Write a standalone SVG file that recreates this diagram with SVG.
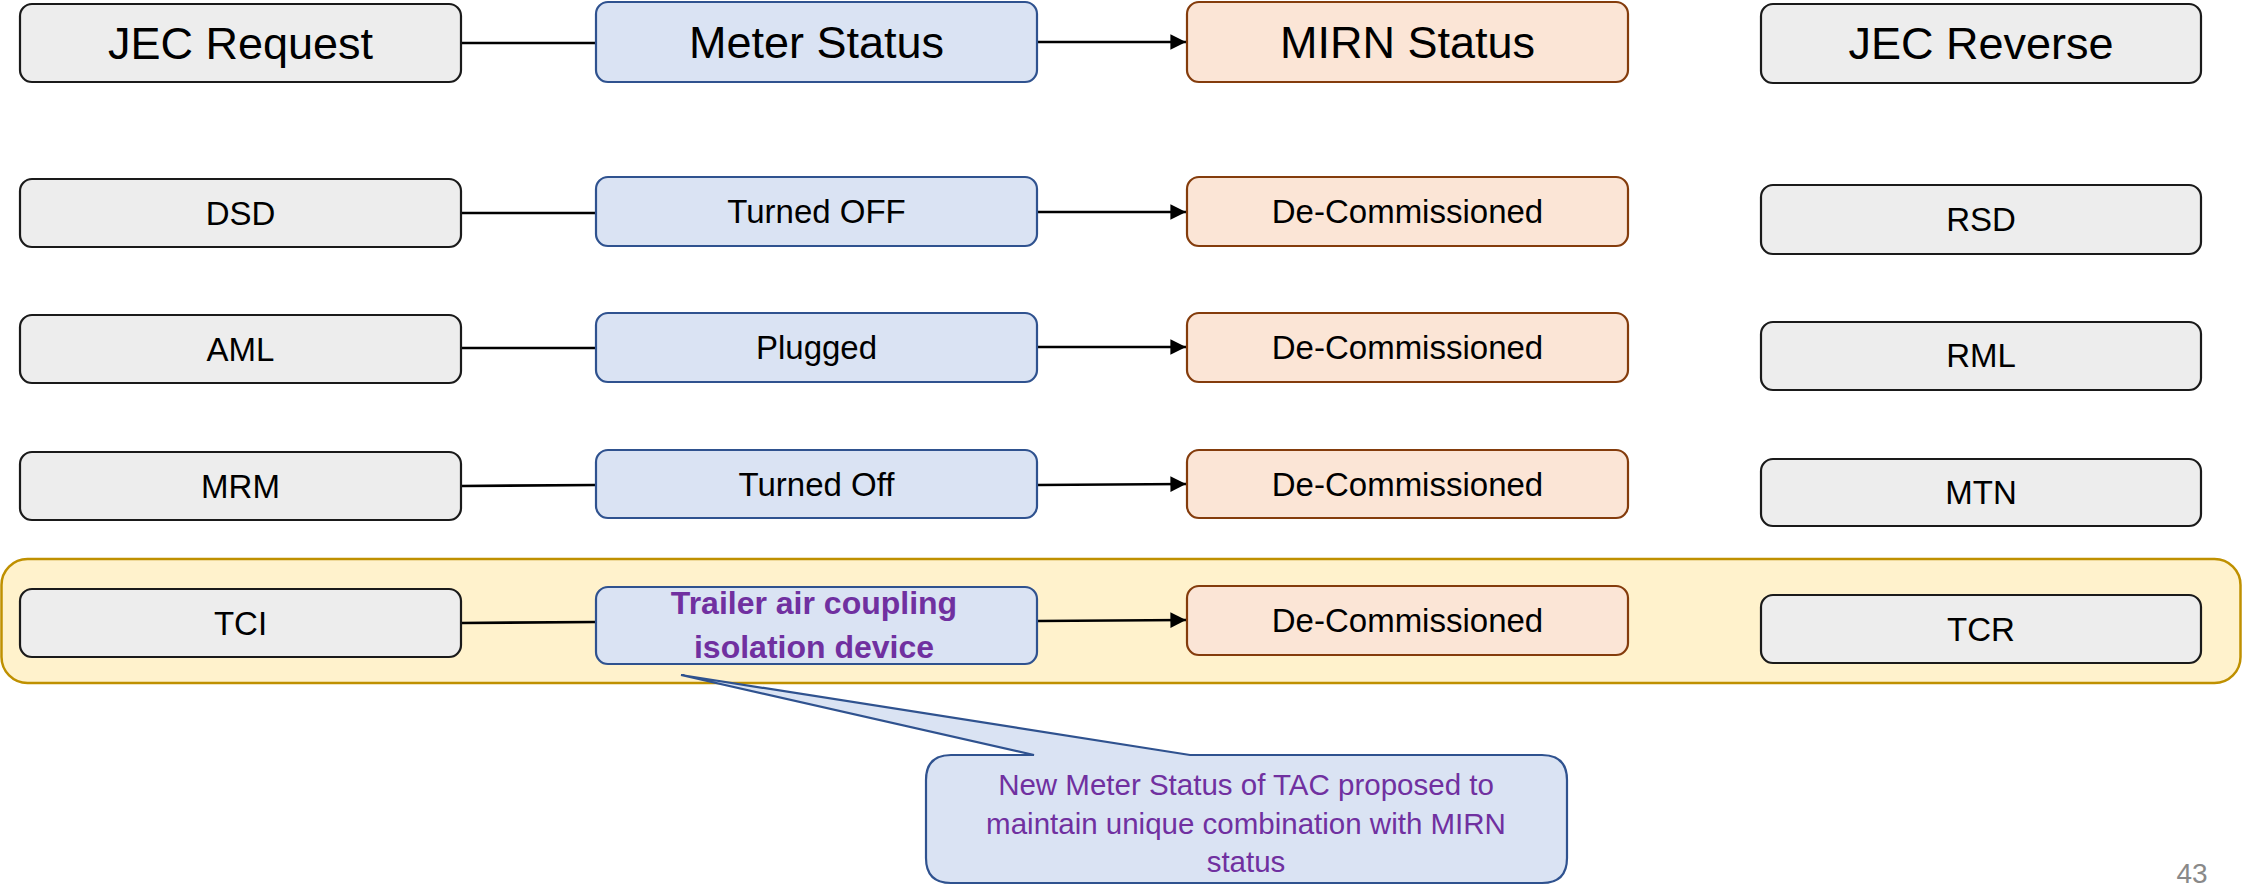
<svg xmlns="http://www.w3.org/2000/svg" width="2242" height="885" viewBox="0 0 2242 885">
  <style>
    text { font-family: "Liberation Sans", Arial, sans-serif; text-anchor: middle; fill: #000; }
    .hdr { font-size: 45px; }
    .lbl { font-size: 33px; }
    .req { fill: #EDEDED; stroke: #1A1A1A; stroke-width: 2.2; }
    .met { fill: #DAE3F3; stroke: #2F528F; stroke-width: 2.2; }
    .mirn { fill: #FBE5D6; stroke: #843C0C; stroke-width: 2.2; }
    .conn { stroke: #000; stroke-width: 2.6; fill: none; }
    .purple { fill: #7030A0; }
  </style>
  <defs>
    <marker id="arrow" viewBox="0 0 10 10" refX="10" refY="5" markerWidth="6" markerHeight="6.4" markerUnits="strokeWidth" orient="auto">
      <path d="M0,0 L10,5 L0,10 Z" fill="#000"/>
    </marker>
  </defs>

  <rect width="2242" height="885" fill="#FFFFFF"/>

  <!-- highlighted TC row band -->
  <g id="highlight">
    <rect x="1.5" y="559" width="2239" height="124" rx="26" ry="26" fill="#FFF2CC" stroke="#BF9000" stroke-width="2.5"/>
  </g>

  <!-- connectors -->
  <g id="connectors">
    <line class="conn" x1="461" y1="43" x2="596" y2="43"/>
    <line class="conn" x1="1037" y1="42" x2="1186" y2="42" marker-end="url(#arrow)"/>
    <line class="conn" x1="461" y1="213" x2="596" y2="213"/>
    <line class="conn" x1="1037" y1="212" x2="1186" y2="212" marker-end="url(#arrow)"/>
    <line class="conn" x1="461" y1="348" x2="596" y2="348"/>
    <line class="conn" x1="1037" y1="347" x2="1186" y2="347" marker-end="url(#arrow)"/>
    <line class="conn" x1="461" y1="486" x2="596" y2="485"/>
    <line class="conn" x1="1037" y1="485" x2="1186" y2="484" marker-end="url(#arrow)"/>
    <line class="conn" x1="461" y1="623" x2="596" y2="622"/>
    <line class="conn" x1="1037" y1="621" x2="1186" y2="620" marker-end="url(#arrow)"/>
  </g>

  <!-- header row -->
  <g id="hdr-request"><rect class="req" x="20" y="4" width="441" height="78" rx="12"/><text class="hdr" x="240.5" y="59">JEC Request</text></g>
  <g id="hdr-meter"><rect class="met" x="596" y="2" width="441" height="80" rx="12"/><text class="hdr" x="816.5" y="58">Meter Status</text></g>
  <g id="hdr-mirn"><rect class="mirn" x="1187" y="2" width="441" height="80" rx="12"/><text class="hdr" x="1407.5" y="58">MIRN Status</text></g>
  <g id="hdr-reverse"><rect class="req" x="1761" y="4" width="440" height="79" rx="12"/><text class="hdr" x="1981" y="59">JEC Reverse</text></g>

  <!-- DSD row -->
  <g id="req-dsd"><rect class="req" x="20" y="179" width="441" height="68" rx="12"/><text class="lbl" x="240.5" y="225">DSD</text></g>
  <g id="met-dsd"><rect class="met" x="596" y="177" width="441" height="69" rx="12"/><text class="lbl" x="816.5" y="223">Turned OFF</text></g>
  <g id="mirn-dsd"><rect class="mirn" x="1187" y="177" width="441" height="69" rx="12"/><text class="lbl" x="1407.5" y="223">De-Commissioned</text></g>
  <g id="rev-rsd"><rect class="req" x="1761" y="185" width="440" height="69" rx="12"/><text class="lbl" x="1981" y="231">RSD</text></g>

  <!-- AML row -->
  <g id="req-aml"><rect class="req" x="20" y="315" width="441" height="68" rx="12"/><text class="lbl" x="240.5" y="361">AML</text></g>
  <g id="met-aml"><rect class="met" x="596" y="313" width="441" height="69" rx="12"/><text class="lbl" x="816.5" y="359">Plugged</text></g>
  <g id="mirn-aml"><rect class="mirn" x="1187" y="313" width="441" height="69" rx="12"/><text class="lbl" x="1407.5" y="359">De-Commissioned</text></g>
  <g id="rev-rml"><rect class="req" x="1761" y="322" width="440" height="68" rx="12"/><text class="lbl" x="1981" y="367">RML</text></g>

  <!-- MRM row -->
  <g id="req-mrm"><rect class="req" x="20" y="452" width="441" height="68" rx="12"/><text class="lbl" x="240.5" y="498">MRM</text></g>
  <g id="met-mrm"><rect class="met" x="596" y="450" width="441" height="68" rx="12"/><text class="lbl" x="816.5" y="496">Turned Off</text></g>
  <g id="mirn-mrm"><rect class="mirn" x="1187" y="450" width="441" height="68" rx="12"/><text class="lbl" x="1407.5" y="496">De-Commissioned</text></g>
  <g id="rev-mtn"><rect class="req" x="1761" y="459" width="440" height="67" rx="12"/><text class="lbl" x="1981" y="504">MTN</text></g>

  <!-- TCI row -->
  <g id="req-tci"><rect class="req" x="20" y="589" width="441" height="68" rx="12"/><text class="lbl" x="240.5" y="635">TCI</text></g>
  <g id="met-tci"><rect class="met" x="596" y="587" width="441" height="77" rx="12"/>
    <text class="purple" font-weight="bold" font-size="32" x="814" y="614">Trailer air coupling</text>
    <text class="purple" font-weight="bold" font-size="32" x="814" y="658">isolation device</text>
  </g>
  <g id="mirn-tci"><rect class="mirn" x="1187" y="586" width="441" height="69" rx="12"/><text class="lbl" x="1407.5" y="632">De-Commissioned</text></g>
  <g id="rev-tcr"><rect class="req" x="1761" y="595" width="440" height="68" rx="12"/><text class="lbl" x="1981" y="641">TCR</text></g>

  <!-- callout note -->
  <g id="callout">
    <path d="M951,755 L1034,755 L681,675 L1190,755 L1542,755 Q1567,755 1567,780 L1567,858 Q1567,883 1542,883 L951,883 Q926,883 926,858 L926,780 Q926,755 951,755 Z" fill="#DAE3F3" stroke="#2F528F" stroke-width="2.2" stroke-linejoin="miter"/>
    <text class="purple" font-size="29.5" x="1246" y="795">New Meter Status of TAC proposed to</text>
    <text class="purple" font-size="29.5" x="1246" y="834">maintain unique combination with MIRN</text>
    <text class="purple" font-size="29.5" x="1246" y="872">status</text>
  </g>

  <!-- slide number -->
  <text x="2192" y="883" font-size="28" style="fill:#898989">43</text>
</svg>
